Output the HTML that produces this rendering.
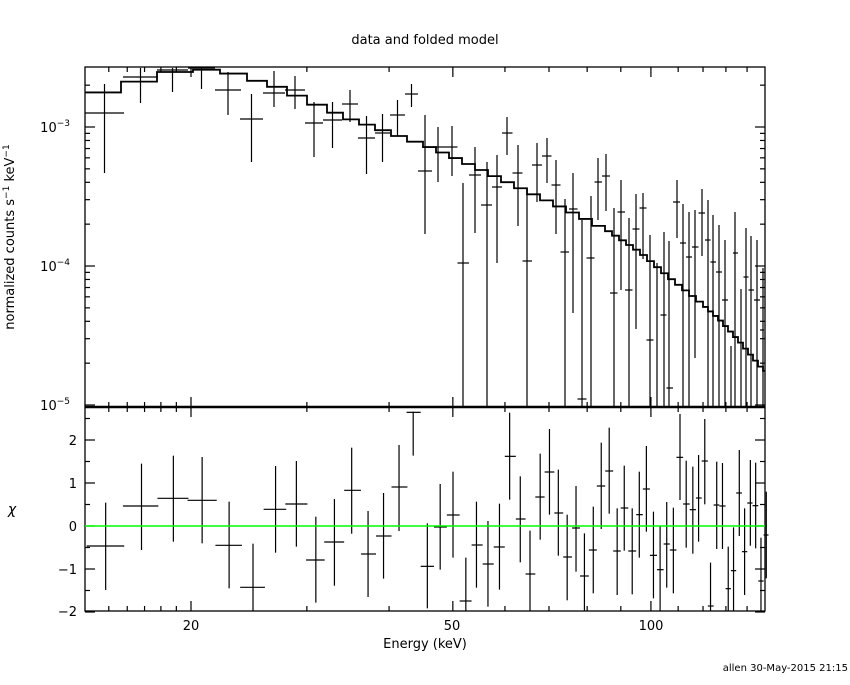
<!DOCTYPE html>
<html><head><meta charset="utf-8"><style>
body{margin:0;background:#fff;width:850px;height:680px;overflow:hidden}
text{font-family:"DejaVu Sans","Liberation Sans",sans-serif;fill:#000}
</style></head><body>
<svg width="850" height="680" xmlns="http://www.w3.org/2000/svg">
<rect width="850" height="680" fill="#fff"/>
<text x="425" y="44" font-size="13" text-anchor="middle">data and folded model</text>
<text x="425" y="648" font-size="13" text-anchor="middle">Energy (keV)</text>
<text x="848" y="671" font-size="10" text-anchor="end">allen 30-May-2015 21:15</text>
<text transform="translate(14,237) rotate(-90)" font-size="13" text-anchor="middle">normalized counts s<tspan font-size="9" dy="-5">−1</tspan><tspan dy="5"> keV</tspan><tspan font-size="9" dy="-5">−1</tspan></text>
<text x="12" y="514" font-size="14" text-anchor="middle" font-style="italic">χ</text>
<g font-size="13" text-anchor="end">
<text x="70" y="132">10<tspan font-size="9" dy="-6">−3</tspan></text>
<text x="70" y="271">10<tspan font-size="9" dy="-6">−4</tspan></text>
<text x="70" y="410">10<tspan font-size="9" dy="-6">−5</tspan></text>
<text x="77" y="445">2</text><text x="77" y="488">1</text><text x="77" y="531">0</text>
<text x="77" y="574">−1</text><text x="77" y="616">−2</text>
</g>
<g font-size="13" text-anchor="middle">
<text x="191" y="630">20</text><text x="452" y="630">50</text><text x="651" y="630">100</text>
</g>
<rect x="85" y="67" width="680" height="544" fill="none" stroke="#000" stroke-width="1.3"/>
<g id="plotg" stroke="#000" fill="none" stroke-width="1.2"></g>
</svg>
<script>
(function(){
var NS='http://www.w3.org/2000/svg';
var G=document.getElementById('plotg');
function L(x1,y1,x2,y2,w,c){var l=document.createElementNS(NS,'line');l.setAttribute('x1',x1);l.setAttribute('y1',y1);l.setAttribute('x2',x2);l.setAttribute('y2',y2);if(w)l.setAttribute('stroke-width',w);if(c)l.setAttribute('stroke',c);G.appendChild(l);}
L(85,407,765,407,2.5);
function X(e){return 191+658*Math.log10(e/20);}
var es=[15,16,17,18,19,20,30,40,50,60,70,80,90,100,110,120,130,140];
es.forEach(function(e){var x=X(e);var maj=(e==20||e==50||e==100);var t=maj?10:5;
 L(x,67,x,67+t);L(x,407,x,407-t);L(x,407,x,407+t);L(x,611,x,611-t);});
for(var d=-5;d<=-3;d++)for(var m=1;m<10;m++){var v=d+Math.log10(m);var y=127-(v+3)*139;if(y<67||y>407)continue;var t=m==1?10:5;L(85,y,85+t,y);L(765,y,765-t,y);}
for(var c=-2;c<=2.5;c+=0.5){var y2=526-43*c;var t2=(Math.abs(c-Math.round(c))<1e-6)?10:5;L(85,y2,85+t2,y2);L(765,y2,765-t2,y2);}
var top=[[85,124,113,84,173],[123,158,77,68,103],[157,188,70,68,92],[188,215,68,68,89],[215,241,90,72,115],[240,263,119,94,162],[263,285,93,71,107],[285,305,90,76,109],[305,323,123,102,157],[323,342,120,102,148],[342,358,104,90,122],[358,375,138,116,174],[375,390,133,114,162],[390,405,115,100,136],[405,418,94,84,107],[418,432,171,115,234]];
var bars=[[438,147,127,182],[452,147,126,176],[463,263,183,407],[475,175,147,233],[487,205,162,407],[497,187,155,263],[507,133,117,155],[518,173,145,226],[527,261,188,407],[537,165,143,202],[547,156,138,183],[556,185,160,234],[565,252,199,407],[573,209,173,313],[582,399,220,407],[591,258,196,407],[598,182,158,220],[606,176,154,211],[614,293,208,407],[621,212,180,290],[629,290,218,407],[636,229,194,329],[643,208,193,259],[650,340,235,407],[657,420,263,407],[664,315,232,407],[669,388,241,407],[677,202,180,238],[683,243,204,407],[689,257,212,407],[695,247,210,358],[702,213,189,256],[708,240,200,407],[713,262,215,407],[719,272,225,407],[725,300,240,407],[731,420,346,407],[735,253,212,407],[741,420,289,407],[746,277,228,407],[751,290,236,407],[757,300,240,407],[763,330,268,407]];
top.forEach(function(d){L(d[0],d[2],d[1],d[2]);L((d[0]+d[1])/2,d[3],(d[0]+d[1])/2,d[4]);});
bars.forEach(function(d,i){var p=i?bars[i-1][0]:432,n=i<bars.length-1?bars[i+1][0]:765;var xl=(p+d[0])/2,xr=(n+d[0])/2;
 if(d[1]<407)L(xl,d[1],xr,d[1]);L(d[0],d[2],d[0],Math.min(d[3],407));});
var mk=[[85,98],[124,86],[158,76],[188,69],[215,70],[241,75],[263,83],[285,89],[305,100],[323,107],[342,116],[358,122],[375,127],[390,133],[405,138],[432,148],[460,160],[490,174],[520,188],[550,202],[580,216],[610,232],[640,252],[670,278],[700,302],[720,320],[740,342],[755,360],[765,372]];
var edges=[];var x=85;while(x<765){edges.push(x);x+=x<420?(x<160?36:x<240?27:x<320?20:16):(x<600?13:x<700?7:5);}edges.push(765);
function my(x){for(var i=1;i<mk.length;i++)if(x<=mk[i][0]){var a=mk[i-1],b=mk[i];return a[1]+(b[1]-a[1])*(x-a[0])/(b[0]-a[0]);}return 372;}
var p='';for(var i=0;i<edges.length-1;i++){var yy=my((edges[i]+edges[i+1])/2);p+=(i?'L':'M')+edges[i]+','+yy+'L'+edges[i+1]+','+yy;}
var path=document.createElementNS(NS,'path');path.setAttribute('d',p);path.setAttribute('stroke-width','1.8');G.appendChild(path);
var R=[[58,15,100,423,293,555],[139,97,177,303,176,435],[211,175,245,280,152,410],[276,243,309,286,156,415],[337,306,366,421,290,550],[391,362,418,547,416,620],[442,415,466,313,183,443],[489,464,514,297,168,425],[533,511,553,465,335,593],[575,552,597,411,282,542],[614,597,635,256,128,386],[651,635,669,447,318,576],[686,669,704,393,264,521],[721,704,740,246,120,378],[753,738,770,22,20,152],[785,770,800,484,355,610],[814,800,829,366,237,494],[843,829,858,330,200,458],[872,858,885,588,458,620],[896,885,910,420,290,548],[922,910,935,477,348,605],[948,935,960,426,296,554],[971,960,985,154,23,284],[995,985,1007,342,214,472],[1017,1007,1029,507,377,620],[1040,1029,1050,276,146,404],[1061,1050,1072,201,72,329],[1081,1072,1092,324,194,452],[1101,1092,1112,456,329,586],[1121,1112,1130,369,243,500],[1140,1130,1150,513,385,620],[1160,1150,1168,435,305,565],[1178,1168,1187,243,113,372],[1196,1187,1205,198,68,326],[1214,1205,1222,438,310,570],[1230,1222,1239,309,182,437],[1248,1239,1257,438,310,568],[1264,1257,1272,329,200,458],[1280,1272,1288,252,123,380],[1296,1288,1304,451,320,580],[1311,1304,1319,494,364,620],[1326,1319,1333,417,291,548],[1341,1333,1348,435,308,565],[1356,1348,1363,157,27,285],[1370,1363,1378,297,167,428],[1385,1378,1392,314,185,446],[1398,1392,1405,279,150,410],[1412,1405,1419,168,42,298],[1425,1419,1432,603,473,620],[1439,1432,1445,300,170,432],[1452,1445,1459,303,174,432],[1465,1459,1471,551,425,620],[1477,1471,1483,497,367,620],[1490,1483,1496,264,135,393],[1502,1496,1508,440,310,570],[1515,1508,1520,294,165,422],[1527,1520,1533,302,173,430],[1539,1533,1545,528,398,620],[1551,1545,1556,390,260,520]];
function cx(z){return 80+z/2.26;}function cy(z){return Math.min(611,Math.max(408,405+z/3.0));}
R.forEach(function(d){L(cx(d[1]),cy(d[3]),cx(d[2]),cy(d[3]));L(cx(d[0]),cy(d[4]),cx(d[0]),cy(d[5]));});
L(85,526,765,526,1.5,'#00ff00');
})();
</script>
</body></html>
